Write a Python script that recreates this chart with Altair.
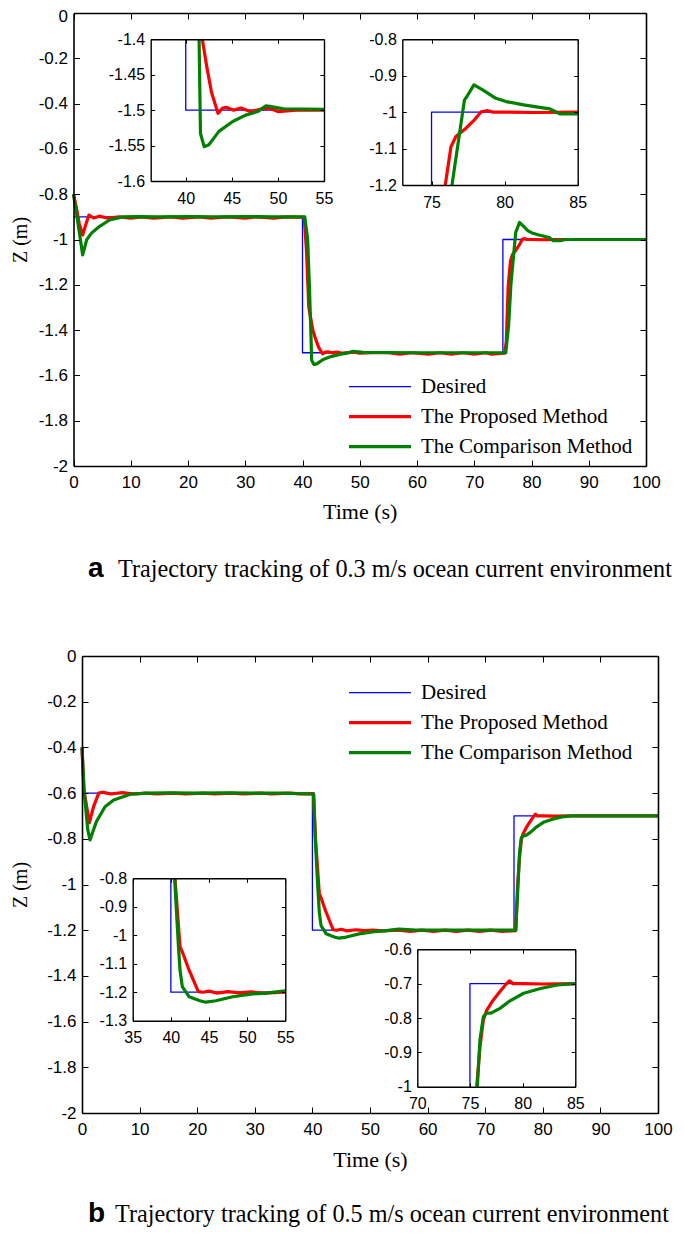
import altair as alt
import pandas as pd

SERIES = ["Desired", "The Proposed Method", "The Comparison Method"]
COLORS = ["#0000ff", "#ff0000", "#008000"]
STROKES = [1.3, 3.2, 3.2]

# ---------------- panel a : 0.3 m/s ----------------
A_DES_T = [0, 40, 40, 40, 55, 75, 75, 75, 85, 100]
A_DES_Z = [-0.9, -0.9, -1.4, -1.5, -1.5, -1.5, -1.2, -1.0, -1.0, -1.0]

A_PRO_T = [0, 0.5, 1.0, 1.6, 2.2, 2.7, 3.5, 4.5, 6, 8, 10, 12, 14, 17, 19, 22, 24, 27, 30, 32, 35, 37,
           40.3, 40.7, 41.1, 41.8, 42.3, 42.8, 43.5, 44.0, 44.4, 45.2, 46, 47, 48, 49, 50, 52, 55,
           57, 59, 62, 64, 66, 68, 70, 72, 73, 75.3, 75.6, 75.94, 76.33, 76.67, 77.36, 77.94, 78.4,
           78.85, 79.2, 80, 82, 85, 90, 95, 100]
A_PRO_Z = [-0.8, -0.86, -0.93, -0.98, -0.93, -0.892, -0.905, -0.897, -0.906, -0.9, -0.906, -0.9, -0.906,
           -0.9, -0.906, -0.9, -0.906, -0.9, -0.906, -0.9, -0.906, -0.9,
           -0.902, -1.05, -1.3, -1.4, -1.44, -1.475, -1.5045, -1.497, -1.496, -1.5, -1.497, -1.502,
           -1.499, -1.497, -1.502, -1.5, -1.5,
           -1.506, -1.5, -1.506, -1.5, -1.506, -1.5, -1.506, -1.5, -1.506, -1.502, -1.45, -1.2, -1.095,
           -1.067, -1.044, -1.021, -0.999, -0.996, -1.0, -1.0, -1.001, -1.0, -1.0, -1.0, -1.0]

A_COM_T = [0, 0.8, 1.6, 2.0, 2.3, 3.1, 4.5, 6.3, 8.6, 11, 15, 20, 25, 30, 35, 40.4, 40.9, 41.2, 41.45,
           41.6, 42.0, 42.5, 43.6, 45.1, 46.5, 47.8, 48.7, 49.3, 50.6, 55, 60, 65, 70, 75.5, 76.0,
           76.4, 77.25, 77.48, 77.9, 78.5, 79.4, 80.1, 81.3, 82.4, 83.1, 83.8, 85, 86, 90, 95, 100]
A_COM_Z = [-0.8, -0.93, -1.068, -1.03, -1.002, -0.973, -0.943, -0.914, -0.9, -0.899, -0.9, -0.899,
           -0.9, -0.899, -0.9, -0.9, -1.0, -1.2, -1.4,
           -1.533, -1.5515, -1.549, -1.53, -1.516, -1.507, -1.502, -1.494, -1.495, -1.498, -1.499,
           -1.5, -1.5, -1.5, -1.5, -1.38,
           -1.2, -0.967, -0.953, -0.925, -0.939, -0.962, -0.971, -0.98, -0.987, -0.991, -1.005,
           -1.005, -1.0, -1.0, -1.0, -1.0]

# ---------------- panel b : 0.5 m/s ----------------
B_DES_T = [0, 40, 40, 40, 55, 75, 75, 75, 85, 100]
B_DES_Z = [-0.6, -0.6, -0.8, -1.2, -1.2, -1.2, -1.0, -0.7, -0.7, -0.7]

B_PRO_T = [0, 0.3, 1.27, 2.0, 2.9, 3.5, 5, 7, 9, 11, 13, 16, 18, 21, 23, 26, 28, 31, 33, 36, 38,
           40.2, 40.54, 41.2, 41.5, 42.3, 43.6, 44.2, 45, 46, 47.5, 49, 50.5, 52, 55,
           57, 59, 61, 63, 65, 67, 69, 71, 73, 75.3, 75.64, 75.95, 76.27, 76.6, 77.2, 77.85, 78.5,
           78.74, 79.1, 80, 82, 85, 90, 95, 100]
B_PRO_Z = [-0.4, -0.58, -0.73, -0.66, -0.6, -0.596, -0.604, -0.598, -0.604, -0.6, -0.604, -0.6,
           -0.604, -0.6, -0.604, -0.6, -0.604, -0.6, -0.604, -0.6, -0.604,
           -0.602, -0.8, -1.04, -1.058, -1.116, -1.198, -1.2, -1.196, -1.203, -1.198, -1.202,
           -1.199, -1.203, -1.2,
           -1.205, -1.2, -1.205, -1.2, -1.205, -1.2, -1.205, -1.2, -1.205, -1.202, -1.0, -0.884,
           -0.806, -0.777, -0.748, -0.723, -0.699, -0.692, -0.7, -0.7, -0.701, -0.7, -0.7, -0.7, -0.7]

B_COM_T = [0, 0.4, 1.0, 1.39, 2.0, 2.5, 4.0, 5.5, 8.4, 11.3, 15, 20, 25, 30, 35, 40.2, 40.5, 40.8,
           41.0, 41.2, 41.5, 42.4, 43.8, 44.6, 45.9, 48.1, 50.7, 52.5, 55, 58, 62, 66, 70, 75.3,
           75.7, 75.95, 76.27, 76.6, 77.0, 77.85, 78.8, 80.1, 81.7, 83.3, 85, 90, 95, 100]
B_COM_Z = [-0.4, -0.6, -0.76, -0.805, -0.76, -0.725, -0.66, -0.63, -0.605, -0.6, -0.599, -0.6,
           -0.599, -0.6, -0.6, -0.604, -0.8, -0.946,
           -1.04, -1.122, -1.18, -1.216, -1.23, -1.235, -1.23, -1.216, -1.206, -1.203, -1.195,
           -1.2, -1.2, -1.2, -1.2, -1.2,
           -1.0, -0.864, -0.796, -0.786, -0.786, -0.772, -0.75, -0.728, -0.714, -0.704, -0.7,
           -0.7, -0.7, -0.7]

# ---------------- axes / windows ----------------
MAIN_X_DOM = [0, 100]
MAIN_Y_DOM = [-2, 0]
MAIN_X_TICKS = [0, 10, 20, 30, 40, 50, 60, 70, 80, 90, 100]
MAIN_Y_TICKS = [0, -0.2, -0.4, -0.6, -0.8, -1, -1.2, -1.4, -1.6, -1.8, -2]

A_IN1_X_DOM = [36.2, 55]
A_IN1_Y_DOM = [-1.6, -1.4]
A_IN1_X_TICKS = [40, 45, 50, 55]
A_IN1_Y_TICKS = [-1.4, -1.45, -1.5, -1.55, -1.6]

A_IN2_X_DOM = [73, 85]
A_IN2_Y_DOM = [-1.2, -0.8]
A_IN2_X_TICKS = [75, 80, 85]
A_IN2_Y_TICKS = [-0.8, -0.9, -1, -1.1, -1.2]

B_IN1_X_DOM = [35, 55]
B_IN1_Y_DOM = [-1.3, -0.8]
B_IN1_X_TICKS = [35, 40, 45, 50, 55]
B_IN1_Y_TICKS = [-0.8, -0.9, -1, -1.1, -1.2, -1.3]

B_IN2_X_DOM = [70, 85]
B_IN2_Y_DOM = [-1, -0.6]
B_IN2_X_TICKS = [70, 75, 80, 85]
B_IN2_Y_TICKS = [-0.6, -0.7, -0.8, -0.9, -1]

X_TITLE = "Time (s)"
Y_TITLE = "Z (m)"
CAPTION_A = ["a", "Trajectory tracking of 0.3 m/s ocean current environment"]
CAPTION_B = ["b", "Trajectory tracking of 0.5 m/s ocean current environment"]

# ---------------- layout (pixels in the view) ----------------
W, H = 669, 1222
SANS = "Liberation Sans"
SERIF = "Liberation Serif"
LBL_EXPR = "datum.value < 0 ? '-' + format(-datum.value, '') : format(datum.value, '')"
# legend sample: a horizontal stroke three radii long on each side of the symbol centre
LEGEND_STROKE = "M-3.1,0H3.1"


def make_df(ts_list, zs_list):
    rows = []
    for name, ts, zs in zip(SERIES, ts_list, zs_list):
        for i, (t, z) in enumerate(zip(ts, zs)):
            rows.append({"series": name, "t": t, "z": z, "i": i})
    return pd.DataFrame(rows)


def ax(orient, offset, values, **kw):
    d = dict(orient=orient, offset=offset, values=values, grid=False, zindex=1,
             domainColor="black", tickColor="black", labelColor="black", titleColor="black",
             labelFlush=False, labelOverlap=False)
    d.update(kw)
    return alt.Axis(**d)


def frame(df, xdom, ydom, xpx, ypx, xt, yt, inset, legend=None, titles=None, top_nudge=False):
    xl, xr = xpx
    ytop, ybot = ypx
    xs = alt.Scale(domain=xdom, range=[xl, xr], nice=False, zero=False)
    ys = alt.Scale(domain=ydom, range=[ybot, ytop], nice=False, zero=False)
    fs = 16 if inset else 17
    tl = 4 if inset else 6
    dw = 1.4 if inset else 1.6
    box = pd.DataFrame({"x0": [xdom[0]], "x1": [xdom[1]], "y0": [ydom[0]], "y1": [ydom[1]]})

    xkw = dict(ticks=False, tickSize=0, domain=True, domainWidth=dw, labels=True,
               labelFont=SANS, labelFontSize=fs, labelPadding=9 if inset else 8,
               labelExpr=LBL_EXPR, title=None)
    ykw = dict(ticks=False, tickSize=0, domain=True, domainWidth=dw, labels=True,
               labelFont=SANS, labelFontSize=fs, labelPadding=6, labelExpr=LBL_EXPR, title=None)
    if top_nudge:
        ykw["labelOffset"] = {"condition": {"test": f"datum.value == {ydom[1]}", "value": 3},
                              "value": 0}
    if titles:
        xkw.update(title=X_TITLE, titleFont=SERIF, titleFontSize=22, titleFontWeight="normal",
                   titleBaseline="alphabetic", titleAlign="center",
                   titleX=(xl + xr) / 2, titleY=titles[0])
        ykw.update(title=Y_TITLE, titleFont=SERIF, titleFontSize=20, titleFontWeight="normal",
                   titleAngle=270, titleBaseline="middle", titleAlign="center",
                   titleX=titles[1], titleY=(ytop + ybot) / 2)

    base_box = alt.Chart(box)
    layer_a = base_box.mark_rect(fill="white", opacity=1 if inset else 0).encode(
        x=alt.X("x0:Q", scale=xs, axis=ax("bottom", ybot - H, xt, **xkw)),
        x2="x1:Q",
        y=alt.Y("y0:Q", scale=ys, axis=ax("left", -xl, yt, **ykw)),
        y2="y1:Q",
    )

    tick_kw = dict(ticks=True, tickSize=tl, tickWidth=1, domain=False, labels=False, title=None)
    lines = alt.Chart(df).mark_line(strokeJoin="round").encode(
        x=alt.X("t:Q", scale=xs, axis=ax("top", -ybot, xt, **tick_kw)),
        y=alt.Y("z:Q", scale=ys, axis=ax("right", xl - W, yt, **tick_kw)),
        color=alt.Color("series:N", scale=alt.Scale(domain=SERIES, range=COLORS), legend=legend),
        strokeWidth=alt.StrokeWidth("series:N",
                                    scale=alt.Scale(type="ordinal", domain=SERIES, range=STROKES),
                                    legend=legend),
        order=alt.Order("i:Q"),
    )
    if inset:
        lines = lines.transform_filter(
            f"datum.t >= {xdom[0]} && datum.t <= {xdom[1]} && "
            f"datum.z >= {ydom[0]} && datum.z <= {ydom[1]}"
        )

    frame_kw = dict(ticks=True, tickSize=tl, tickWidth=1, domain=True, domainWidth=dw,
                    labels=False, title=None)
    layer_c = base_box.mark_rect(opacity=0).encode(
        x=alt.X("x0:Q", scale=xs, axis=ax("bottom", ytop - H, xt, **frame_kw)),
        x2="x1:Q",
        y=alt.Y("y0:Q", scale=ys, axis=ax("left", -xr, yt, **frame_kw)),
        y2="y1:Q",
    )
    return [layer_a, lines, layer_c]


def make_legend(lx, ly):
    return alt.Legend(orient="none", legendX=lx, legendY=ly, title=None,
                      symbolType=LEGEND_STROKE, symbolSize=400, labelFont=SERIF,
                      labelFontSize=21, labelColor="black", labelLimit=400, labelOffset=29,
                      rowPadding=8, padding=0)


def caption(parts, x_letter, x_text, y):
    d1 = pd.DataFrame({"txt": [parts[0]]})
    d2 = pd.DataFrame({"txt": [parts[1]]})
    c1 = alt.Chart(d1).mark_text(align="left", baseline="alphabetic", font=SANS, fontSize=28,
                                 fontWeight="bold", color="black").encode(
        x=alt.value(x_letter), y=alt.value(y), text="txt:N")
    c2 = alt.Chart(d2).mark_text(align="left", baseline="alphabetic", font=SERIF, fontSize=24.2,
                                 color="black").encode(
        x=alt.value(x_text), y=alt.value(y), text="txt:N")
    return [c1, c2]


df_a = make_df([A_DES_T, A_PRO_T, A_COM_T], [A_DES_Z, A_PRO_Z, A_COM_Z])
df_b = make_df([B_DES_T, B_PRO_T, B_COM_T], [B_DES_Z, B_PRO_Z, B_COM_Z])

layers = []
# panel a
layers += frame(df_a, MAIN_X_DOM, MAIN_Y_DOM, [65.5, 638], [5, 458], MAIN_X_TICKS, MAIN_Y_TICKS,
                False, legend=make_legend(360, 367.7), titles=(52, -53.5), top_nudge=True)
layers += frame(df_a, A_IN1_X_DOM, A_IN1_Y_DOM, [142.7, 316], [31.3, 173], A_IN1_X_TICKS,
                A_IN1_Y_TICKS, True)
layers += frame(df_a, A_IN2_X_DOM, A_IN2_Y_DOM, [394.3, 569.7], [31.3, 177], A_IN2_X_TICKS,
                A_IN2_Y_TICKS, True)
layers += caption(CAPTION_A, 80, 110, 569)
# panel b
layers += frame(df_b, MAIN_X_DOM, MAIN_Y_DOM, [74, 650], [648, 1105], MAIN_X_TICKS, MAIN_Y_TICKS,
                False, legend=make_legend(360, 673.7), titles=(53, -62))
layers += frame(df_b, B_IN1_X_DOM, B_IN1_Y_DOM, [124.7, 277.3], [870.3, 1012.7], B_IN1_X_TICKS,
                B_IN1_Y_TICKS, True)
layers += frame(df_b, B_IN2_X_DOM, B_IN2_Y_DOM, [409.3, 567.3], [941.3, 1078.7], B_IN2_X_TICKS,
                B_IN2_Y_TICKS, True)
layers += caption(CAPTION_B, 80, 107, 1214)

chart = alt.layer(*layers).resolve_scale(
    x="independent", y="independent", color="independent", strokeWidth="independent"
).properties(
    width=W, height=H, padding=0, autosize=alt.AutoSizeParams(type="none")
).configure_view(stroke=None)

chart.save("out.html", embed_options={"renderer": "svg", "actions": False})
